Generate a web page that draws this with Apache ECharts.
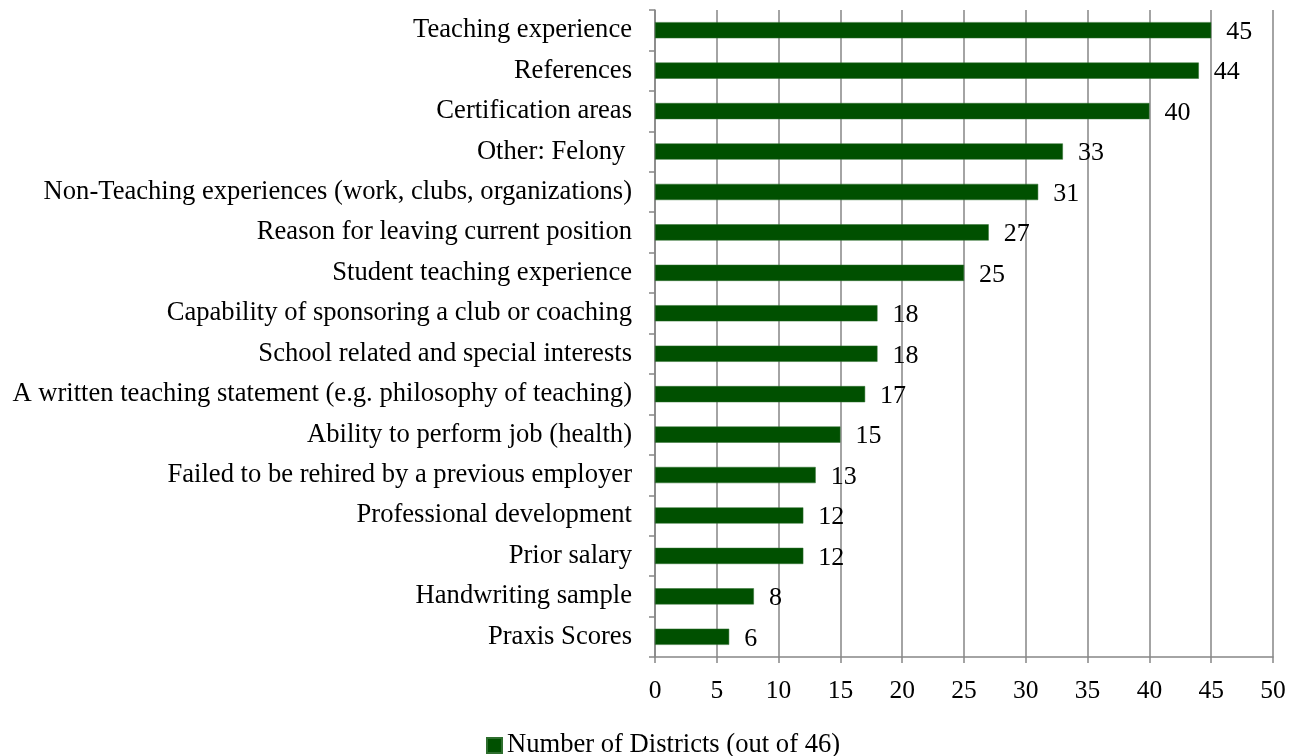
<!DOCTYPE html>
<html><head><meta charset="utf-8">
<script src="https://cdn.jsdelivr.net/npm/echarts@6/dist/echarts.min.js"></script>
<style>html,body{margin:0;padding:0;background:#fff}#c{width:1304px;height:756px}</style>
</head><body><div id="c"></div>
<script>
const categories = [
  "Teaching experience",
  "References",
  "Certification areas",
  "Other: Felony ",
  "Non-Teaching experiences (work, clubs, organizations)",
  "Reason for leaving current position",
  "Student teaching experience",
  "Capability of sponsoring a club or coaching",
  "School related and special interests",
  "A written teaching statement (e.g. philosophy of teaching)",
  "Ability to perform job (health)",
  "Failed to be rehired by a previous employer",
  "Professional development",
  "Prior salary",
  "Handwriting sample",
  "Praxis Scores"
];
const values = [45, 44, 40, 33, 31, 27, 25, 18, 18, 17, 15, 13, 12, 12, 8, 6];
const seriesName = "Number of Districts (out of 46)";

const chart = echarts.init(document.getElementById('c'), null, {renderer: 'canvas'});
const font = '"Liberation Serif", "Times New Roman", serif';
chart.setOption({
  animation: false,
  textStyle: {fontFamily: font},
  grid: {left: 655, right: 31, top: 10, bottom: 99, containLabel: false},
  xAxis: {
    type: 'value', min: 0, max: 50, interval: 5,
    axisLine: {show: true, lineStyle: {color: '#868686', width: 1.5}},
    axisTick: {show: true, length: 6, lineStyle: {color: '#868686', width: 1.5}},
    axisLabel: {color: '#000', fontSize: 25.5, fontFamily: font, margin: 21},
    splitLine: {show: true, lineStyle: {color: '#868686', width: 1.5}}
  },
  yAxis: {
    type: 'category', data: categories.slice().reverse(),
    axisLine: {show: true, lineStyle: {color: '#868686', width: 1.5}},
    axisTick: {show: true, length: 6, lineStyle: {color: '#868686', width: 1.5}},
    axisLabel: {color: '#000', fontSize: 26.6, fontFamily: font, margin: 23}
  },
  legend: {
    top: 727, left: 481, itemWidth: 15, itemHeight: 15, itemGap: 4,
    textStyle: {fontSize: 26.6, fontFamily: font, color: '#000'},
    data: [{name: seriesName, icon: 'rect'}]
  },
  series: [{
    name: seriesName, type: 'bar',
    data: values.slice().reverse(),
    barWidth: '40%',
    itemStyle: {color: '#005000', borderColor: '#2e6e2e', borderWidth: 0.5},
    label: {show: true, position: 'right', distance: 15, offset: [0, 2], color: '#000', fontSize: 26, fontFamily: font}
  }]
});
</script></body></html>
